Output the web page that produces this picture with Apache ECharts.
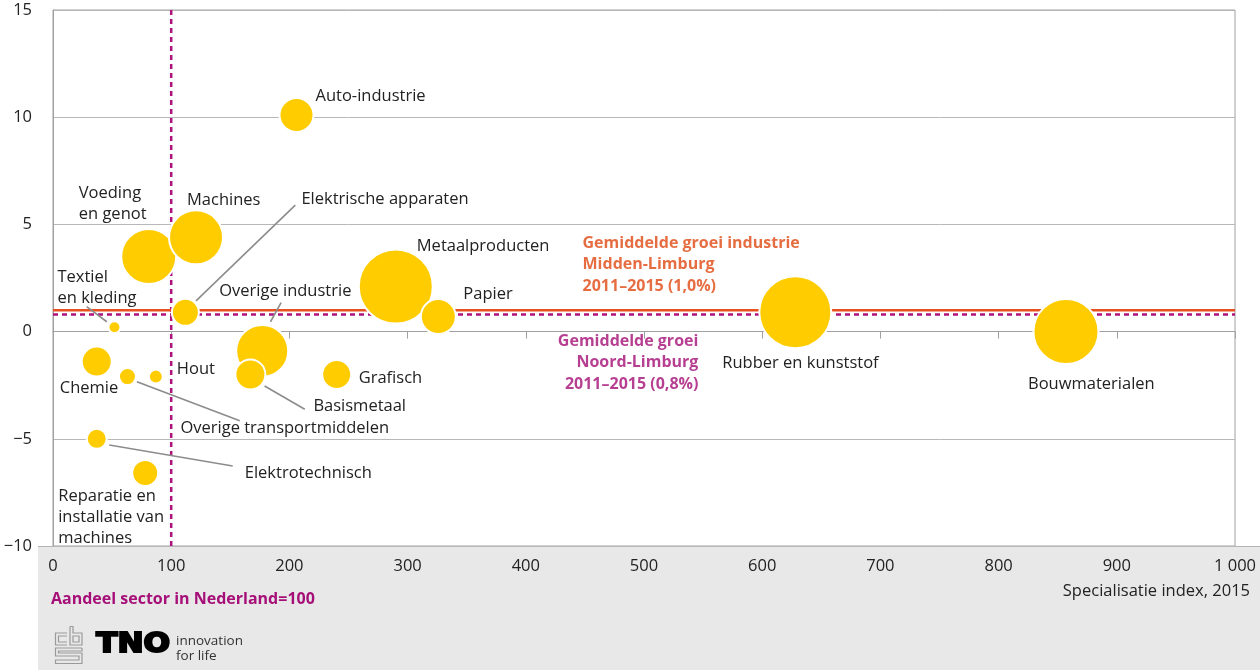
<!DOCTYPE html>
<html>
<head>
<meta charset="utf-8">
<script src="https://cdn.jsdelivr.net/npm/echarts@6/dist/echarts.min.js"></script>
<style>
  html, body { margin: 0; padding: 0; background: #ffffff; }
  #chart { width: 1260px; height: 670px; }
</style>
</head>
<body>
<div id="chart"></div>
<script>
// Sectoren Midden-Limburg: specialisatie-index (x), groei 2011-2015 in % (y), omvang (bubbel)
const sectoren = [
  'Auto-industrie', 'Voeding\nen genot', 'Machines', 'Elektrische apparaten',
  'Textiel\nen kleding', 'Overige industrie', 'Metaalproducten', 'Papier',
  'Rubber en kunststof', 'Bouwmaterialen', 'Chemie', 'Overige transportmiddelen',
  'Hout', 'Basismetaal', 'Grafisch', 'Elektrotechnisch',
  'Reparatie en\ninstallatie van\nmachines'
];
const specialisatie = [206, 81, 121, 112, 52, 177, 290, 326, 628, 857, 37, 63, 87, 167, 240, 37, 78];
const groei = [10.1, 3.5, 4.4, 0.9, 0.2, -0.9, 2.1, 0.7, 0.9, 0.0, -1.4, -2.1, -2.1, -2.0, -2.0, -5.0, -6.6];
const omvang = [34, 55, 54, 27, 12, 52, 74, 35, 72, 65, 30, 17, 14, 30, 29, 20, 26];

const xTicks = [0, 100, 200, 300, 400, 500, 600, 700, 800, 900, 1000];
const yTicks = [-10, -5, 0, 5, 10, 15];

const groeiMiddenLimburg = 1.0;
const groeiNoordLimburg = 0.8;
const indexNederland = 100;

// label placement per sector (pixel offset of the text's left edge / middle from the bubble centre)
const labelOffsets = [
  [19, -19], [-70, -53], [-9, -37], [116, -113],
  [-57, -40], [-43, -60], [21, -40], [25, -22],
  [-73, 51], [-38, 53], [-37, 27], [53, 52],
  [21, -7], [63, 32], [22, 4], [148, 34],
  [-87, 44]
];

// leader lines from bubble to label, in axis units
const verbindingen = [
  [[121, 1.43], [205, 5.9]],
  [[184, 0.46], [193, 1.35]],
  [[28.5, 1.16], [45.5, 0.46]],
  [[71, -2.34], [158, -4.16]],
  [[179, -2.54], [213, -3.62]],
  [[47.6, -5.29], [152, -6.27]]
];

const FONT = '"Open Sans"';
const TEXT = '#222222';
const ORANJE = '#E8501E';
const ORANJE_TEKST = '#E04812';
const PAARS = '#AE127C';
const PAARS_TEKST = '#A50F77';
const GEEL = '#FFCC00';

const chart = echarts.init(document.getElementById('chart'), null, { renderer: 'canvas' });

const bubbleData = sectoren.map((s, i) => ({
  name: s,
  value: [specialisatie[i], groei[i], omvang[i]]
}));

const option = {
  backgroundColor: '#ffffff',
  animation: false,
  grid: {
    left: 53, right: 25, top: 10, bottom: 124,
    show: true, borderColor: '#a0a0a0', borderWidth: 1, backgroundColor: 'transparent'
  },
  xAxis: {
    type: 'value', min: 0, max: 1000, interval: 100,
    axisLine: { show: true, lineStyle: { color: '#a0a0a0', width: 1 } },
    axisTick: { show: true, length: 7, lineStyle: { color: '#a0a0a0' } },
    splitLine: { show: false },
    axisLabel: {
      margin: 12, color: TEXT, fontFamily: FONT, fontSize: 16.5,
      formatter: v => v >= 1000 ? String(v).replace(/\B(?=(\d{3})+(?!\d))/g, ' ') : String(v)
    }
  },
  yAxis: {
    type: 'value', min: -10, max: 15, interval: 5,
    axisLine: { show: true, lineStyle: { color: '#a0a0a0', width: 1 } },
    axisTick: { show: false },
    splitLine: { show: true, lineStyle: { color: '#b8b8b8', width: 1 } },
    axisLabel: {
      margin: 21, color: TEXT, fontFamily: FONT, fontSize: 16.5,
      formatter: v => v < 0 ? '\u2212' + Math.abs(v) : String(v)
    }
  },
  graphic: [
    { type: 'rect', z: -10, silent: true, shape: { x: 38, y: 546, width: 1222, height: 124 }, style: { fill: '#e8e8e8' } },
    { type: 'line', z: -9, silent: true, shape: { x1: 38, y1: 546.5, x2: 1260, y2: 546.5 }, style: { stroke: '#b4b4b4', lineWidth: 1 } },
    { type: 'text', left: 51, top: 591, style: { text: 'Aandeel sector in Nederland=' + indexNederland, fill: PAARS_TEKST, font: 'bold 16px ' + FONT } },
    { type: 'text', right: 10, top: 583, style: { text: 'Specialisatie index, 2015', fill: TEXT, font: '16.5px ' + FONT, textAlign: 'right' } },
    // CBS beeldmerk
    { type: 'group', left: 53, top: 624, children: [
      { type: 'polyline', shape: { points: [[12, 7], [0.5, 7], [0.5, 19], [12, 19]] }, style: { stroke: '#9a9a9a', fill: 'none', lineWidth: 1.2 } },
      { type: 'polyline', shape: { points: [[12, 10], [3.5, 10], [3.5, 16], [12, 16]] }, style: { stroke: '#9a9a9a', fill: 'none', lineWidth: 1.2 } },
      { type: 'polyline', shape: { points: [[15, 0.5], [15, 19], [27, 19], [27, 7], [18, 7], [18, 0.5], [15, 0.5]] }, style: { stroke: '#9a9a9a', fill: 'none', lineWidth: 1.2 } },
      { type: 'rect', shape: { x: 18, y: 10, width: 6, height: 6 }, style: { stroke: '#9a9a9a', fill: 'none', lineWidth: 1.2 } },
      { type: 'polyline', shape: { points: [[27, 22], [0.5, 22], [0.5, 30], [24, 30], [24, 34], [0.5, 34], [0.5, 37.5], [27, 37.5], [27, 27], [3.5, 27], [3.5, 25], [27, 25], [27, 22]] }, style: { stroke: '#9a9a9a', fill: 'none', lineWidth: 1.2 } }
    ] },
    // TNO woordmerk
    { type: 'text', left: 95, top: 631, scaleX: 1.2, style: { text: 'TNO', fill: '#000', stroke: '#000', lineWidth: 2, font: 'bold 26px "DejaVu Sans"' } },
    { type: 'text', left: 176, top: 634, style: { text: 'innovation\nfor life', fill: '#333', font: '13.5px ' + FONT, lineHeight: 15 } }
  ],
  series: [
    {
      name: 'index', type: 'line', z: 1, silent: true, symbol: 'none',
      data: [[indexNederland, -10], [indexNederland, 15]],
      lineStyle: { color: PAARS, width: 2.5, type: [5, 4] }
    },
    {
      name: 'noord', type: 'line', z: 1, silent: true, symbol: 'none',
      data: [[0, groeiNoordLimburg], [1000, groeiNoordLimburg]],
      lineStyle: { color: PAARS, width: 2.5, type: [5, 4] }
    },
    {
      name: 'midden', type: 'line', z: 2, silent: true, symbol: 'none',
      data: [[0, groeiMiddenLimburg], [1000, groeiMiddenLimburg]],
      lineStyle: { color: ORANJE, width: 2.5 }
    },
    {
      name: 'verbindingen', type: 'lines', coordinateSystem: 'cartesian2d', z: 3, silent: true,
      data: verbindingen.map(c => ({ coords: c })),
      lineStyle: { color: '#8c8c8c', width: 1.6, opacity: 1 }
    },
    {
      name: 'sectoren', type: 'scatter', z: 5, silent: true,
      data: bubbleData,
      symbolSize: v => v[2],
      itemStyle: { color: GEEL, borderColor: '#ffffff', borderWidth: 2, opacity: 1 },
      label: {
        show: true, position: 'inside', align: 'left', verticalAlign: 'middle',
        formatter: p => p.name, color: TEXT, fontFamily: FONT, fontSize: 16.5, lineHeight: 21
      },
      labelLayout: p => ({
        dx: labelOffsets[p.dataIndex][0],
        dy: labelOffsets[p.dataIndex][1],
        hideOverlap: false
      })
    },
    {
      name: 'toelichting', type: 'scatter', z: 6, silent: true, symbolSize: 0,
      data: [
        { value: [448, 3.12], label: { align: 'left', color: ORANJE_TEKST,
          formatter: 'Gemiddelde groei industrie\nMidden-Limburg\n2011\u20132015 (' + groeiMiddenLimburg.toFixed(1).replace('.', ',') + '%)' } },
        { value: [546, -1.45], label: { align: 'right', color: PAARS_TEKST,
          formatter: 'Gemiddelde groei\nNoord-Limburg\n2011\u20132015 (' + groeiNoordLimburg.toFixed(1).replace('.', ',') + '%)' } }
      ],
      label: { show: true, position: 'inside', verticalAlign: 'middle', fontFamily: FONT, fontWeight: 'bold', fontSize: 16, lineHeight: 21.5 }
    }
  ]
};

chart.setOption(option);
</script>
</body>
</html>
